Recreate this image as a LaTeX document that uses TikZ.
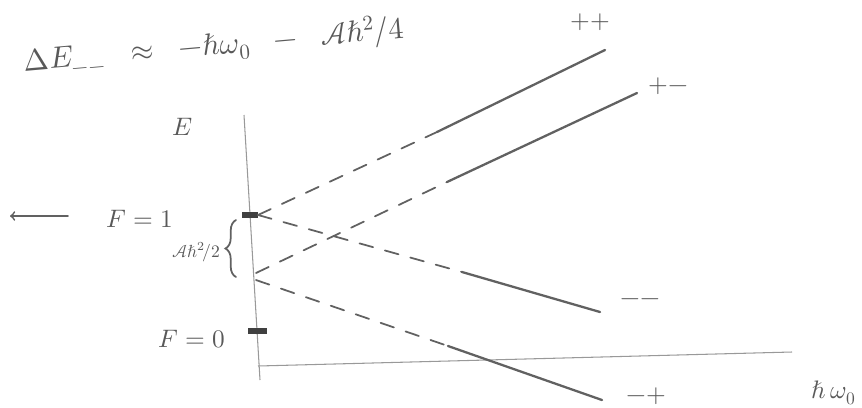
\documentclass[tikz,border=0pt]{standalone}
\usepackage{unicode-math}
\usetikzlibrary{decorations.pathreplacing}

\tikzset{
  pencil/.style={draw=black!62, line width=1.3pt, line cap=round},
  guess/.style={pencil, line width=1pt, dash pattern=on 8pt off 7pt},
  faint/.style={draw=black!40, line width=0.6pt},
  tick/.style={draw=black!75, line width=3.2pt},
  lbl/.style={text=black!65, font=\Large},
}

\begin{document}
\begin{tikzpicture}[x=0.02cm, y=-0.02cm]
\useasboundingbox (0,0) rectangle (862,407);

% energy shift of the -- branch
\node[lbl, font=\LARGE, rotate=5] (shift) at (214,46)
  {$\Delta E_{--}\;\;\approx\;\;-\hbar\omega_0\;\;-\;\;\mathcal{A}\hbar^{2}\!\!\;/4$};

% axes
\coordinate (Etop) at (244,115);
\coordinate (Ebot) at (260,380);
\coordinate (horig) at (258,366);
\coordinate (hend) at (792,352);
\draw[faint] (Etop) -- (Ebot);
\draw[faint] (horig) -- (hend);
\node[lbl] (E) at (183,127) {$E$};
\node[lbl] (hw) at (834,393) {$\hbar\,\omega_{0}$};

% hyperfine levels at zero field
\coordinate (f1) at (258,215);
\coordinate (f1low) at (256,273);
\coordinate (f0) at (258,331);
\draw[tick] ([xshift=-9pt]f1) -- (f1);
\draw[tick] ([xshift=-5.5pt]f0) -- ([xshift=5pt]f0);
\node[lbl] (F1) at (140,219) {$F = 1$};
\node[lbl] (F0) at (192,339) {$F = 0$};
\coordinate (arrS) at (68,216);
\coordinate (arrE) at (10,216);
\draw[pencil, line width=1pt, ->] (arrS) -- (arrE);

% splitting of F=1
\draw[pencil, line width=1pt, decorate, decoration={brace, amplitude=6pt}]
  (236,277) -- (236,220);
\node[text=black!65, font=\normalsize] (split) at (196,252) {$\mathcal{A}\hbar^{2}\!/2$};

% ++ branch
\coordinate (ppmid) at (437,132);
\coordinate (pp) at (605,50);
\draw[guess] (f1) -- (ppmid);
\draw[pencil] (ppmid) -- (pp);
\node[lbl] (ppl) at (590,22) {$++$};

% +- branch
\coordinate (pmmid) at (447,182);
\coordinate (pm) at (637,93);
\draw[guess] (f1low) -- (pmmid);
\draw[pencil] (pmmid) -- (pm);
\node[lbl] (pml) at (668,86) {$+-$};

% -- branch
\coordinate (mmmid) at (462,272);
\coordinate (mm) at (600,312);
\draw[guess] (f1) -- (mmmid);
\draw[pencil] (mmmid) -- (mm);
\node[lbl] (mml) at (640,302) {$--$};

% -+ branch
\coordinate (mpmid) at (448,346);
\coordinate (mp) at (602,400);
\draw[guess] ([yshift=-4pt]f1low) -- (mpmid);
\draw[pencil] (mpmid) -- (mp);
\node[lbl] (mpl) at (646,396) {$-+$};
\end{tikzpicture}
\end{document}
